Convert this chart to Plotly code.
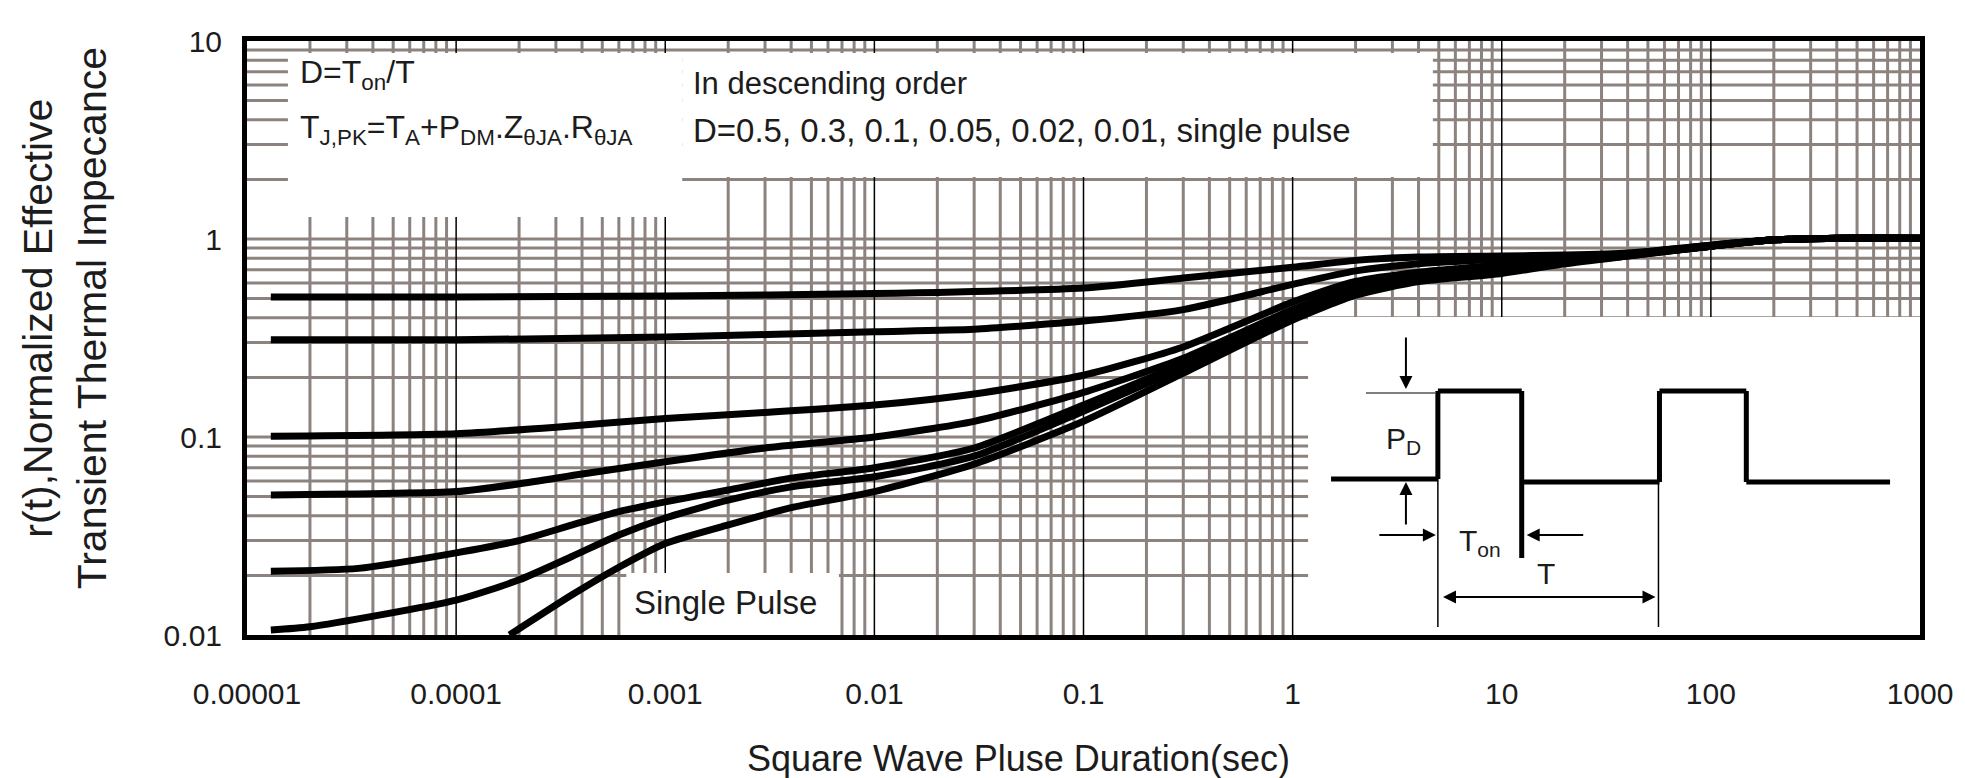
import plotly.graph_objects as go

# Transient thermal impedance curves, one per duty cycle
t_d05 = [1.3e-5, 1e-4, 1e-3, 1e-2, 0.1, 0.3, 1, 2, 4, 10, 20, 40, 100, 200, 400, 1000]
z_d05 = [0.51, 0.51, 0.515, 0.53, 0.565, 0.635, 0.72, 0.78, 0.81, 0.82, 0.83, 0.85, 0.93, 0.99, 1.01, 1.01]

t_d03 = [1.3e-5, 1e-4, 1e-3, 1e-2, 0.03, 0.1, 0.3, 1, 2, 4, 10, 20, 40, 100, 200, 400, 1000]
z_d03 = [0.31, 0.31, 0.32, 0.34, 0.35, 0.385, 0.44, 0.59, 0.69, 0.75, 0.79, 0.81, 0.84, 0.93, 0.99, 1.01, 1.01]

t_d01 = [1.3e-5, 1e-4, 3e-4, 1e-3, 3e-3, 1e-2, 3e-2, 0.1, 0.3, 1, 2, 4, 10, 20, 40, 100, 200, 400, 1000]
z_d01 = [0.101, 0.104, 0.112, 0.124, 0.133, 0.145, 0.165, 0.205, 0.285, 0.48, 0.61, 0.68, 0.74, 0.79, 0.83, 0.92, 0.99, 1.01, 1.01]

t_d005 = [1.3e-5, 1e-4, 2e-4, 4e-4, 1e-3, 3e-3, 1e-2, 3e-2, 0.1, 0.3, 1, 2, 4, 10, 20, 40, 100, 200, 400, 1000]
z_d005 = [0.051, 0.053, 0.058, 0.065, 0.075, 0.088, 0.1, 0.12, 0.168, 0.25, 0.44, 0.57, 0.66, 0.72, 0.78, 0.83, 0.92, 0.99, 1.01, 1.01]

t_d002 = [1.3e-5, 3.4e-5, 1e-4, 2e-4, 3.6e-4, 6e-4, 1e-3, 2e-3, 4e-3, 1e-2, 3e-2, 0.1, 0.3, 1, 2, 4, 10, 20, 40, 100, 200, 400, 1000]
z_d002 = [0.021, 0.0217, 0.026, 0.030, 0.036, 0.042, 0.047, 0.054, 0.062, 0.070, 0.088, 0.145, 0.235, 0.42, 0.55, 0.64, 0.70, 0.77, 0.83, 0.92, 0.99, 1.01, 1.01]

t_d001 = [1.3e-5, 2e-5, 1e-4, 2e-4, 3.6e-4, 6e-4, 1e-3, 2e-3, 4e-3, 1e-2, 3e-2, 0.1, 0.3, 1, 2, 4, 10, 20, 40, 100, 200, 400, 1000]
z_d001 = [0.0106, 0.011, 0.015, 0.019, 0.025, 0.032, 0.039, 0.048, 0.056, 0.063, 0.08, 0.135, 0.225, 0.41, 0.54, 0.63, 0.69, 0.76, 0.82, 0.92, 0.99, 1.01, 1.01]

t_single = [1.8e-4, 3.6e-4, 6e-4, 1e-3, 2e-3, 4e-3, 1e-2, 3e-2, 0.1, 0.3, 1, 2, 4, 10, 20, 40, 100, 200, 400, 1000]
z_single = [0.01, 0.016, 0.022, 0.029, 0.036, 0.044, 0.053, 0.073, 0.12, 0.21, 0.39, 0.52, 0.61, 0.67, 0.75, 0.82, 0.92, 0.99, 1.01, 1.01]

curves = [
    (t_d05, z_d05), (t_d03, z_d03), (t_d01, z_d01), (t_d005, z_d005),
    (t_d002, z_d002), (t_d001, z_d001), (t_single, z_single),
]

x_tickvals = [1e-5, 1e-4, 1e-3, 1e-2, 1e-1, 1, 10, 100, 1000]
x_ticktext = ["0.00001", "0.0001", "0.001", "0.01", "0.1", "1", "10", "100", "1000"]
y_tickvals = [0.01, 0.1, 1, 10]
y_ticktext = ["0.01", "0.1", "1", "10"]

W, H = 1965, 778
L, R, T, B = 247, 1923, 41, 635
FONT = "Liberation Sans, Arial, sans-serif"
INK = "#1c1c1c"
GRID = "#8c837e"


def px(x):
    return (x - L) / (R - L)


def py(y):
    return (B - y) / (B - T)


fig = go.Figure()
for tx, zy in curves:
    fig.add_trace(go.Scatter(
        x=tx, y=zy, mode="lines",
        line=dict(color="black", width=7, shape="spline", smoothing=0.6),
        hoverinfo="skip", showlegend=False,
    ))

shapes = []

# log grid: grey lines at every digit, thin black verticals at each decade
minor_x = [k * 10.0 ** e for e in range(-5, 3) for k in range(2, 10)]
major_x = [10.0 ** e for e in range(-4, 3)]
grid_y = [k * 10.0 ** e for e in range(-2, 1) for k in range(1, 10)][1:]
for v in minor_x:
    shapes.append(dict(type="line", xref="x", yref="paper", layer="below",
                       x0=v, x1=v, y0=0, y1=1,
                       line=dict(color=GRID, width=3)))
for v in grid_y:
    shapes.append(dict(type="line", xref="paper", yref="y", layer="below",
                       x0=0, x1=1, y0=v, y1=v,
                       line=dict(color=GRID, width=3)))
for v in major_x:
    shapes.append(dict(type="line", xref="x", yref="paper", layer="below",
                       x0=v, x1=v, y0=0, y1=1,
                       line=dict(color="black", width=1.5)))


def white_box(x0, y0, x1, y1):
    shapes.append(dict(type="rect", xref="paper", yref="paper", layer="below",
                       x0=px(x0), x1=px(x1), y0=py(y1), y1=py(y0),
                       fillcolor="white", line=dict(width=0)))


# text panels and inset area sit over the grid
white_box(288, 53, 683, 217)
white_box(683, 53, 1435, 177)
white_box(627, 573, 840, 635)
white_box(1310, 317, 1923, 635)


def seg(x0, y0, x1, y1, width, color="black"):
    shapes.append(dict(type="line", xref="paper", yref="paper", layer="above",
                       x0=px(x0), y0=py(y0), x1=px(x1), y1=py(y1),
                       line=dict(color=color, width=width)))


# pulse train schematic
pulse = [(1333, 479), (1440, 479), (1440, 391), (1524, 391), (1524, 558)]
pulse2 = [(1524, 482), (1662, 482), (1662, 391), (1749, 391), (1749, 482), (1893, 482)]
for pts in (pulse, pulse2):
    for (a, b), (c, d) in zip(pts[:-1], pts[1:]):
        seg(a, b, c, d, 5)
seg(1368, 393, 1438, 393, 1.5, "#555")
seg(1440, 479, 1440, 627, 1.5)
seg(1661, 482, 1661, 627, 1.5)

annotations = []


def arrow(xt, yt, ax, ay, both=False):
    annotations.append(dict(
        x=px(xt), y=py(yt), xref="paper", yref="paper", ax=ax, ay=ay,
        showarrow=True, arrowhead=2, arrowsize=1.3, arrowwidth=2, arrowcolor="black",
        arrowside="end+start" if both else "end", startarrowhead=2, startarrowsize=1.3,
        text="",
    ))


arrow(1408, 389, 0, -53)
arrow(1408, 482, 0, 44)
arrow(1438, 535, -58, 0)
arrow(1529, 535, 58, 0)
arrow(1658, 597, -214, 0, both=True)


def label(x, y, text, size, xanchor="left", angle=0):
    annotations.append(dict(
        x=px(x), y=py(y), xref="paper", yref="paper", text=text, showarrow=False,
        xanchor=xanchor, yanchor="middle", textangle=angle,
        font=dict(family=FONT, size=size, color=INK),
    ))


label(298, 75, "D=T<sub>on</sub>/T", 32)
label(298, 129, "T<sub>J,PK</sub>=T<sub>A</sub>+P<sub>DM</sub>.Z<sub>θJA</sub>.R<sub>θJA</sub>", 32)
label(692, 83, "In descending order", 31)
label(692, 130, "D=0.5, 0.3, 0.1, 0.05, 0.02, 0.01, single pulse", 33)
label(633, 602, "Single Pulse", 33)
label(1406, 440, "P<sub>D</sub>", 30, xanchor="center")
label(1482, 542, "T<sub>on</sub>", 30, xanchor="center")
label(1548, 573, "T", 30, xanchor="center")
label(1020, 758, "Square Wave Pluse Duration(sec)", 36, xanchor="center")
label(64, 318, "r(t),Normalized Effective<br>Transient Thermal Impecance", 41,
      xanchor="center", angle=-90)

fig.update_layout(
    width=W, height=H, autosize=False,
    margin=dict(l=L, r=W - R, t=T, b=H - B),
    paper_bgcolor="white", plot_bgcolor="white",
    shapes=shapes, annotations=annotations,
    font=dict(family=FONT, color=INK),
)
fig.update_xaxes(
    type="log", range=[-5, 3],
    tickvals=x_tickvals, ticktext=x_ticktext, ticks="", ticklabelstandoff=28,
    tickfont=dict(size=30, family=FONT, color=INK),
    showgrid=False,
    showline=True, linecolor="black", linewidth=5, mirror=True, zeroline=False,
)
fig.update_yaxes(
    type="log", range=[-2, 1],
    tickvals=y_tickvals, ticktext=y_ticktext, ticks="", ticklabelstandoff=14,
    tickfont=dict(size=30, family=FONT, color=INK),
    showgrid=False,
    showline=True, linecolor="black", linewidth=5, mirror=True, zeroline=False,
)

fig.write_html("out.html")
